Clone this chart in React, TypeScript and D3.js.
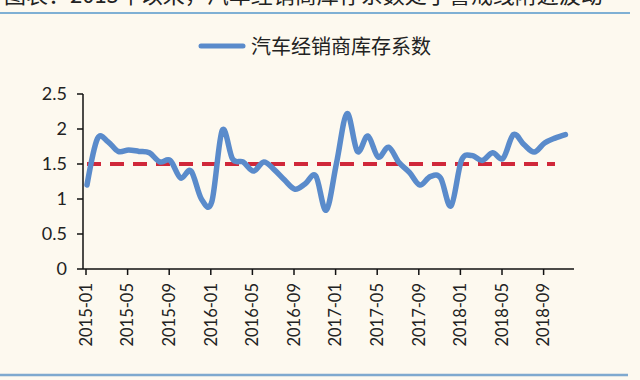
import React from "react";
import * as d3 from "d3";

const months: string[] = [
  "2015-01","2015-02","2015-03","2015-04","2015-05","2015-06","2015-07","2015-08","2015-09","2015-10","2015-11","2015-12",
  "2016-01","2016-02","2016-03","2016-04","2016-05","2016-06","2016-07","2016-08","2016-09","2016-10","2016-11","2016-12",
  "2017-01","2017-02","2017-03","2017-04","2017-05","2017-06","2017-07","2017-08","2017-09","2017-10","2017-11","2017-12",
  "2018-01","2018-02","2018-03","2018-04","2018-05","2018-06","2018-07","2018-08","2018-09","2018-10","2018-11",
];

const inventoryCoef: number[] = [
  1.20, 1.86, 1.82, 1.68, 1.70, 1.68, 1.66, 1.53, 1.55, 1.30, 1.40, 1.00,
  0.96, 1.98, 1.57, 1.53, 1.40, 1.53, 1.42, 1.27, 1.14, 1.22, 1.33, 0.84,
  1.52, 2.22, 1.68, 1.90, 1.60, 1.74, 1.52, 1.38, 1.20, 1.32, 1.30, 0.90,
  1.55, 1.62, 1.55, 1.66, 1.58, 1.92, 1.78, 1.67, 1.80, 1.87, 1.92,
];

const benchmarkValue = 1.5;
const benchmarkStart = "2015-01";
const benchmarkEnd = "2018-10";

const yTicks: number[] = [0, 0.5, 1, 1.5, 2, 2.5];
const xTickLabels: string[] = [
  "2015-01","2015-05","2015-09","2016-01","2016-05","2016-09",
  "2017-01","2017-05","2017-09","2018-01","2018-05","2018-09",
];

const seriesName = "汽车经销商库存系数";
const titleText = "图表：2015年以来，汽车经销商库存系数处于警戒线附近波动";

const W = 640;
const H = 380;
const BG = "#fdf9ef";
const BLUE = "#5a8bcb";
const RED = "#d0283a";
const FONT = "Lato, 'Liberation Sans', sans-serif";
const CJK = "'Noto Sans CJK SC', sans-serif";

export default function App() {
  const x = d3.scalePoint<string>().domain(months).range([87, 87 + 46 * 10.4]);
  const y = d3.scaleLinear().domain([0, 2.5]).range([269, 94]);
  const axisLeft = 83;
  const axisRight = 574;

  const line = d3
    .line<number>()
    .x((_, i) => x(months[i]) as number)
    .y((d) => y(d))
    .curve(d3.curveCardinal.tension(0));

  const benchPath = d3
    .line<string>()
    .x((m) => x(m) as number)
    .y(() => y(benchmarkValue))([benchmarkStart, benchmarkEnd]);

  return (
    <div style={{ position: "fixed", left: 0, top: 0, width: W, height: H }}>
      <svg width={W} height={H} style={{ display: "block", background: BG }}>
        <rect x={0} y={0} width={W} height={H} fill={BG} />
        {/* title, cut off at the top edge as in the source image */}
        <text x={4} y={3} fontFamily={CJK} fontSize={22} fill="#222">
          {titleText}
        </text>
        <line x1={0} x2={630} y1={13} y2={13} stroke="#7fb0d4" strokeWidth={2} />
        <line x1={0} x2={628} y1={375} y2={375} stroke="#7fa9cf" strokeWidth={2.5} />

        {/* legend */}
        <line x1={201} x2={243} y1={46} y2={46} stroke={BLUE} strokeWidth={5} strokeLinecap="round" />
        <text x={251} y={54} fontFamily={CJK} fontSize={20} fill="#222">
          {seriesName}
        </text>

        {/* y axis */}
        <line x1={axisLeft} x2={axisLeft} y1={y(2.5)} y2={y(0)} stroke="#111" strokeWidth={1.5} />
        {yTicks.map((t) => (
          <g key={t}>
            <line x1={axisLeft - 6} x2={axisLeft} y1={y(t)} y2={y(t)} stroke="#111" strokeWidth={1.5} />
            <text
              x={axisLeft - 16}
              y={y(t)}
              dy="0.35em"
              textAnchor="end"
              fontFamily={FONT}
              fontSize={18}
              fill="#222"
            >
              {t}
            </text>
          </g>
        ))}

        {/* x axis */}
        <line x1={axisLeft} x2={axisRight} y1={y(0)} y2={y(0)} stroke="#111" strokeWidth={1.5} />
        {xTickLabels.map((m) => {
          const px = (x(m) as number) - 1;
          return (
            <g key={m}>
              <line x1={px} x2={px} y1={y(0)} y2={y(0) + 6} stroke="#111" strokeWidth={1.5} />
              <text
                transform={`translate(${px},${y(0) + 14}) rotate(-90)`}
                dy="0.35em"
                textAnchor="end"
                fontFamily={FONT}
                fontSize={16.5}
                fill="#222"
              >
                {m}
              </text>
            </g>
          );
        })}

        {/* benchmark dashed line */}
        <path d={benchPath || ""} fill="none" stroke={RED} strokeWidth={4} strokeDasharray="14 9" />

        {/* main series */}
        <path
          d={line(inventoryCoef) || ""}
          fill="none"
          stroke={BLUE}
          strokeWidth={5.5}
          strokeLinejoin="round"
          strokeLinecap="round"
        />
      </svg>
    </div>
  );
}
